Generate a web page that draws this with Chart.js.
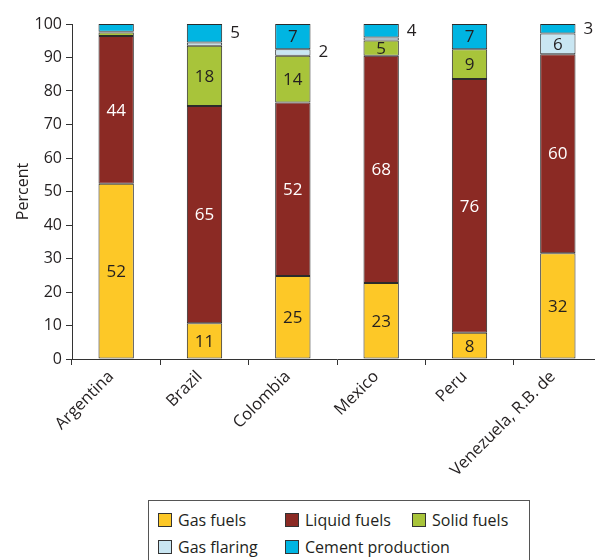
<!DOCTYPE html>
<html>
<head>
<meta charset="utf-8">
<script src="https://cdn.jsdelivr.net/npm/chart.js@4"></script>
<style>
  html, body { margin: 0; padding: 0; background: #fff; overflow: hidden; width: 595px; height: 560px; }
  #wrap { position: relative; width: 602px; height: 560px; }
  #chart { position: absolute; left: 0; top: 0; }
  #legend {
    position: absolute; left: 148px; top: 500px; width: 382px; height: 80px;
    border: 1px solid #555; padding: 7px 0 0 9px; box-sizing: border-box;
    display: flex; flex-wrap: wrap; align-content: flex-start;
    font-family: "Open Sans", sans-serif; font-size: 16px; color: #231f20;
  }
  .item { width: 127px; height: 27px; line-height: 24px; white-space: nowrap; }
  .item:nth-child(3n) { width: 110px; }
  .sw { display: inline-block; width: 12px; height: 12px; border: 1px solid #333; margin-right: 6px; vertical-align: -1px; }
</style>
</head>
<body>
<div id="wrap">
  <canvas id="chart" width="602" height="495"></canvas>
  <div id="legend"></div>
</div>
<script>
// emissions by source, percent of total
const categories = ['Argentina', 'Brazil', 'Colombia', 'Mexico', 'Peru', 'Venezuela, R.B. de'];
const seriesNames = ['Gas fuels', 'Liquid fuels', 'Solid fuels', 'Gas flaring', 'Cement production'];
const seriesColors = ['#fdc827', '#8b2a24', '#a8c43a', '#c9e6f2', '#00b5e2'];

const gasFuels = [52.3, 10.7, 24.8, 22.7, 7.8, 31.6];
const liquidFuels = [44.1, 64.8, 51.8, 67.8, 75.8, 59.4];
const solidFuels = [1.1, 18.0, 13.9, 4.6, 8.9, 0];
const gasFlaring = [0.2, 1.0, 2.0, 0.9, 0, 6.2];
const cementProduction = [2.3, 5.5, 7.5, 4.0, 7.5, 2.8];

// printed labels (null = not printed)
const gasLabels = [52, 11, 25, 23, 8, 32];
const liquidLabels = [44, 65, 52, 68, 76, 60];
const solidLabels = [null, 18, 14, 5, 9, null];
const flaringLabels = [null, null, 2, null, null, 6];
const cementLabels = [null, 5, 7, 4, 7, 3];
// labels written beside the bar: series index : category index
const outsideLabels = ['3:2', '4:1', '4:3', '4:5'];

const yTicks = [0, 10, 20, 30, 40, 50, 60, 70, 80, 90, 100];

const seriesValues = [gasFuels, liquidFuels, solidFuels, gasFlaring, cementProduction];
const seriesLabels = [gasLabels, liquidLabels, solidLabels, flaringLabels, cementLabels];

const FONT = '"Open Sans", sans-serif';
const INK = '#231f20';

const barLabels = {
    id: 'barLabels',
    afterDatasetsDraw(chart) {
        const ctx = chart.ctx;
        ctx.save();
        ctx.font = '17px ' + FONT;
        ctx.textBaseline = 'middle';
        chart.data.datasets.forEach((ds, i) => {
            const meta = chart.getDatasetMeta(i);
            meta.data.forEach((bar, j) => {
                const txt = seriesLabels[i][j];
                if (txt === null) return;
                const p = bar.getProps(['x', 'y', 'base', 'width'], true);
                const cy = (p.y + p.base) / 2;
                if (outsideLabels.includes(i + ':' + j)) {
                    ctx.fillStyle = INK;
                    ctx.textAlign = 'left';
                    ctx.fillText(String(txt), p.x + p.width / 2 + 8, cy);
                } else {
                    ctx.fillStyle = i === 1 ? '#ffffff' : INK;
                    ctx.textAlign = 'center';
                    ctx.fillText(String(txt), p.x, cy + 1);
                }
            });
        });
        ctx.restore();
    }
};

new Chart(document.getElementById('chart'), {
    type: 'bar',
    data: {
        labels: categories,
        datasets: seriesNames.map((name, i) => ({
            label: name,
            data: seriesValues[i],
            backgroundColor: seriesColors[i],
            borderColor: '#2b2b2b',
            borderWidth: 1,
            borderSkipped: false,
            barPercentage: 0.4,
            categoryPercentage: 1
        }))
    },
    options: {
        responsive: false,
        animation: false,
        layout: { padding: { top: 24, right: 0, bottom: 0, left: 0 } },
        plugins: { legend: { display: false }, tooltip: { enabled: false } },
        scales: {
            x: {
                stacked: true,
                grid: { offset: true, drawOnChartArea: false, tickLength: 6, color: '#333' },
                border: { color: '#333' },
                ticks: { color: INK, font: { family: FONT, size: 16.5 }, minRotation: 45, maxRotation: 45, padding: 2, labelOffset: -5 },
                afterFit(scale) { scale.height = 136; }
            },
            y: {
                stacked: true,
                min: 0,
                max: 100,
                afterBuildTicks(scale) { scale.ticks = yTicks.map(v => ({ value: v })); },
                grid: { drawOnChartArea: false, tickLength: 6, color: '#333' },
                border: { color: '#333' },
                ticks: { color: INK, font: { family: FONT, size: 16 }, padding: 4 },
                title: { display: true, text: 'Percent', color: INK, font: { family: FONT, size: 16 }, padding: { top: 14, bottom: 0 } },
                afterFit(scale) { scale.width = 72; }
            }
        }
    },
    plugins: [barLabels]
});

const legend = document.getElementById('legend');
seriesNames.forEach((name, i) => {
    const item = document.createElement('span');
    item.className = 'item';
    item.innerHTML = '<span class="sw" style="background:' + seriesColors[i] + '"></span>' + name;
    legend.appendChild(item);
});
</script>
</body>
</html>
